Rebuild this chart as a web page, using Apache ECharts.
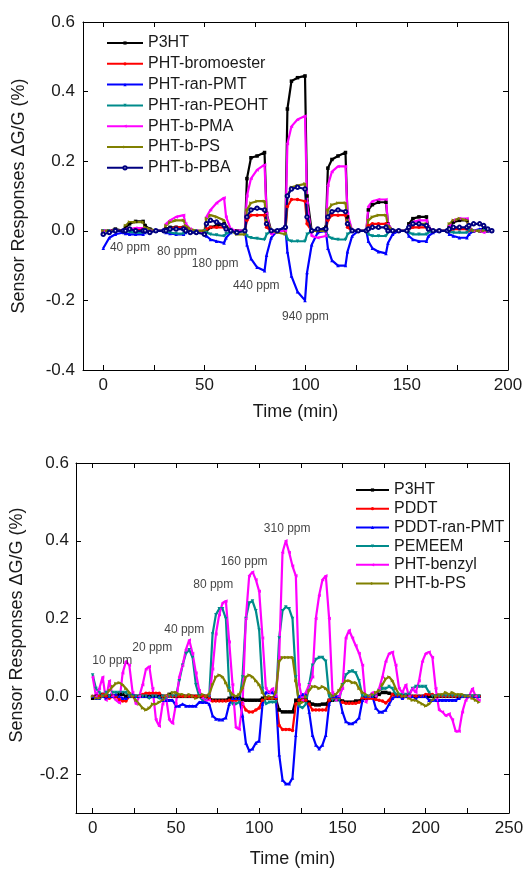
<!DOCTYPE html>
<html><head><meta charset="utf-8">
<script src="https://cdn.jsdelivr.net/npm/echarts@6/dist/echarts.min.js"></script>
<style>html,body{margin:0;padding:0;background:#fff}#c{width:529px;height:869px}</style>
</head><body><div id="c"></div>
<script>
// ---------- Top panel data ----------
const topTime = [0,3,6,
 10,11,13,16,19.7,20.7,23,26,
 30,31,33,36,39.7,40.7,43,46,
 50,51,53,56,59.7,60.7,63,66,
 70,71,73,76,79.7,80.7,83,86,
 90,91,93,96,99.7,100.7,103,106,
 110,111,113,116,119.7,120.7,123,126,
 130,131,133,136,139.7,140.7,143,146,
 150,151,153,156,159.7,160.7,163,166,
 170,171,173,176,179.7,180.7,183,186,
 188,190,192];
const topNames = ['P3HT','PHT-bromoester','PHT-ran-PMT','PHT-ran-PEOHT','PHT-b-PMA','PHT-b-PS','PHT-b-PBA'];
const topP3HT = [0,0,0.005,
 0,0.01,0.02,0.027,0.027,0.015,0.005,0,
 0,0.005,0.01,0.01,0.01,0.005,0,-0.005,
 -0.005,0,0.01,0.015,0.02,0.01,0,0,
 0,0.15,0.21,0.215,0.225,0.05,0,0,
 0.01,0.35,0.43,0.44,0.445,0.1,0,0,
 0.01,0.18,0.205,0.215,0.225,0.04,0,0,
 0,0.06,0.075,0.082,0.082,0.02,0,0,
 0,0.02,0.035,0.04,0.04,0.01,0,0,
 0,0.01,0.025,0.03,0.03,0.01,0,0,
 0.005,0,0];
const topBromo = [0,0,0,
 0,0,0.005,0.005,0.005,0,0,0,
 0,0,0.005,0.01,0.01,0.005,0,0,
 0,0.005,0.01,0.01,0.01,0.005,0,0,
 0,0.03,0.045,0.045,0.045,0.01,0,0,
 0,0.07,0.09,0.09,0.085,0.02,0,0,
 0,0.03,0.045,0.045,0.045,0.01,0,0,
 0,0.015,0.02,0.02,0.02,0.005,0,0,
 0,0.005,0.01,0.01,0.01,0,0,0,
 0,0,0.005,0.005,0.005,0,0,0,
 0,0,0];
const topRanPMT = [-0.05,-0.02,-0.01,
 -0.005,-0.008,-0.01,-0.01,-0.01,-0.005,0,0,
 0,-0.005,-0.008,-0.01,-0.01,-0.005,0,0,
 -0.005,-0.015,-0.025,-0.03,-0.035,-0.02,-0.005,0,
 0,-0.04,-0.08,-0.105,-0.115,-0.07,-0.02,0,
 0.01,-0.06,-0.13,-0.175,-0.2,-0.12,-0.04,-0.005,
 0,-0.05,-0.085,-0.1,-0.1,-0.06,-0.015,0,
 0,-0.03,-0.05,-0.06,-0.065,-0.035,-0.01,0,
 0,-0.015,-0.025,-0.03,-0.03,-0.015,-0.005,0,
 0,-0.01,-0.015,-0.02,-0.02,-0.01,0,0.005,
 0.005,0,0];
const topPEOHT = [0,0,0,
 0,0,-0.003,-0.005,-0.005,0,0,0,
 0,-0.003,-0.005,-0.008,-0.008,-0.003,0,0,
 0,-0.005,-0.01,-0.012,-0.015,-0.008,-0.005,-0.002,
 0,-0.015,-0.02,-0.022,-0.025,-0.01,0,0,
 0,-0.025,-0.03,-0.03,-0.03,-0.01,0,0,
 0,-0.015,-0.022,-0.025,-0.025,-0.01,0,0,
 0,-0.01,-0.015,-0.015,-0.015,-0.005,0,0,
 0,-0.005,-0.01,-0.01,-0.01,-0.005,0,0,
 0,-0.003,-0.005,-0.005,-0.005,0,0,0,
 0,0,0];
const topPMA = [0,0,0,
 0,0.005,0.005,0.008,0.008,0,0,0,
 0,0.02,0.03,0.04,0.045,0.02,0.005,0,
 -0.01,0.04,0.06,0.08,0.095,0.04,0.005,0,
 0,0.1,0.15,0.175,0.19,0.05,-0.01,0,
 0,0.25,0.3,0.32,0.33,0.08,-0.015,-0.02,
 -0.015,0.13,0.17,0.185,0.185,0.05,0,0,
 0,0.07,0.085,0.09,0.09,0.02,0,0,
 0,0.015,0.025,0.03,0.03,0.01,0,0,
 0,0.015,0.03,0.035,0.035,0.01,0,0,
 -0.005,0,0];
const topPS = [0,0,0,
 0,0.015,0.025,0.025,0.025,0.01,0.005,0,
 0,0.015,0.025,0.03,0.03,0.015,0.005,0,
 0,0.035,0.045,0.04,0.03,0.015,0,-0.01,
 -0.01,0.06,0.08,0.085,0.085,0.03,0,-0.005,
 -0.01,0.1,0.125,0.13,0.135,0.04,0,0,
 0,0.06,0.075,0.08,0.08,0.03,0,0,
 0,0.03,0.04,0.045,0.045,0.015,0,0,
 0,0.01,0.02,0.02,0.02,0.005,0,0,
 0,0.02,0.03,0.035,0.03,0.01,0,0,
 0,0,0];
const topPBA = [-0.01,-0.005,0,
 0,0,0.005,0,0,0,-0.005,0,
 0,0,0.005,0.005,0.005,0,-0.005,-0.005,
 -0.01,0.02,0.03,0.025,0.015,0.005,0,-0.005,
 0,0.04,0.06,0.065,0.06,0.02,0,0,
 0.01,0.1,0.12,0.125,0.12,0.04,0,0.005,
 0.005,0.04,0.055,0.06,0.055,0.02,0,0,
 0,0.005,0.01,0.01,0.01,0,0,0,
 0,0.01,0.02,0.02,0.015,0.005,0,0,
 0,0.005,0.01,0.01,0.01,0.015,0.02,0.02,
 0.015,0.005,0];
const topDoseText = ['40 ppm','80 ppm','180 ppm','440 ppm','940 ppm'];
const topDoseX = [13.2,36.5,55.3,75.6,99.9];
const topDoseY = [-0.049,-0.061,-0.095,-0.158,-0.248];
const topXTicks = [0,25,50,75,100,125,150,175,200];
const topXLabels = [0,50,100,150,200];

// ---------- Bottom panel data ----------
const botTime = [];
for (let t = 0; t <= 232; t += 2) botTime.push(t);
const botNames = ['P3HT','PDDT','PDDT-ran-PMT','PEMEEM','PHT-benzyl','PHT-b-PS'];
const botP3HT = [-0.005,0,0,0.005,0,0,0,0,0.005,0.005,
 0,0,0,0,0,0,0,0,0,0,
 0,0,0,0.005,0,0,0,0,0,0,
 0,0,0,0,0,-0.005,-0.01,-0.01,-0.01,-0.01,
 -0.01,-0.005,-0.005,-0.005,-0.005,-0.008,-0.01,-0.01,-0.01,-0.01,
 -0.01,-0.005,-0.005,-0.005,-0.005,-0.005,-0.035,-0.04,-0.04,-0.04,
 -0.04,-0.01,-0.01,-0.01,-0.01,-0.015,-0.02,-0.022,-0.022,-0.02,
 -0.02,-0.01,-0.01,-0.008,-0.008,-0.012,-0.015,-0.015,-0.015,-0.012,
 -0.012,-0.005,-0.005,-0.003,-0.003,0,0.005,0.01,0.01,0.008,
 0.005,0,0,0,0,0,0,0,0,0,
 0,0,0,0,0,0,0,0,0,0,
 0,0,0,0,0,0,0];
const botPDDT = [0,-0.005,0,0.005,0,-0.005,0,0,-0.008,-0.012,
 -0.012,0,0,0,0,0.005,0.008,0.008,0.008,0.008,
 0.008,0,0,0,0,0,0,0,0,0,
 0,0,0,0,0,-0.005,-0.012,-0.012,-0.012,-0.012,
 -0.012,-0.01,-0.01,-0.01,-0.01,-0.02,-0.035,-0.04,-0.04,-0.035,
 -0.03,-0.01,-0.005,-0.005,-0.005,-0.005,-0.075,-0.085,-0.085,-0.085,
 -0.088,-0.02,-0.01,-0.01,-0.01,-0.02,-0.035,-0.035,-0.035,-0.035,
 -0.035,-0.01,-0.005,-0.005,-0.005,-0.015,-0.018,-0.018,-0.018,-0.018,
 -0.015,-0.005,-0.005,-0.005,-0.005,-0.008,-0.01,-0.012,-0.017,-0.01,
 0.005,0,0,0,0,0,0,0,0,0,
 0.005,0.005,0.005,0,0,0,0,0,0,0,
 0,0,0,0,0,0,0];
const botRanPMT = [0,-0.005,-0.005,0,-0.005,0,0,0.005,0,-0.005,
 -0.005,0,0.005,0,0,0,0,0,0,0,
 0,-0.01,-0.01,-0.01,-0.01,-0.025,-0.025,-0.02,-0.025,-0.025,
 -0.025,-0.025,-0.015,-0.015,-0.015,-0.02,-0.05,-0.058,-0.06,-0.06,
 -0.055,-0.02,-0.005,-0.005,-0.005,-0.05,-0.12,-0.14,-0.135,-0.12,
 -0.115,-0.02,0.01,0.01,0.01,0,-0.15,-0.215,-0.225,-0.225,
 -0.21,-0.1,0,0.005,0.005,-0.04,-0.1,-0.125,-0.135,-0.125,
 -0.1,-0.02,0,0,0,-0.04,-0.065,-0.07,-0.07,-0.065,
 -0.055,-0.01,0,0,0,-0.03,-0.04,-0.04,-0.035,-0.02,
 -0.005,0,0,-0.005,0,0,0,-0.005,0,0,
 0,-0.01,-0.01,-0.01,-0.01,-0.01,-0.01,-0.01,-0.01,-0.01,
 -0.005,0,0,0,0,0,0];
const botPEMEEM = [0.055,0.02,0.01,0,0.01,0,0.01,0.01,0.01,0.01,
 0.01,0,0,0,0,0,0,-0.005,0,0,
 -0.005,0,-0.005,0,0,0,0.04,0.08,0.11,0.12,
 0.1,0.03,0,-0.01,-0.01,0,0.16,0.21,0.225,0.225,
 0.2,0.02,-0.02,-0.02,-0.015,0.05,0.2,0.24,0.245,0.22,
 0.17,0.02,-0.02,-0.015,-0.015,-0.015,0.15,0.22,0.23,0.225,
 0.2,0.05,-0.025,-0.03,-0.02,0.03,0.08,0.095,0.1,0.1,
 0.09,0,-0.01,-0.01,-0.01,0.03,0.055,0.063,0.065,0.06,
 0.04,0,0,0,0,0,0.015,0.02,0.02,0.025,
 0.02,0.005,0.005,0.005,0.005,0.005,0.02,0.025,0.025,0.025,
 0.025,0.01,0,0,0,0,0,0,0,0,
 0,0,0,0,0,0,0];
const botBenzyl = [0.05,0,0.02,0.05,-0.01,0.04,0,-0.01,-0.017,0.06,
 0.09,0.08,0.01,-0.02,0,0.03,0.07,0.077,0.02,-0.06,
 -0.077,-0.02,0,-0.06,-0.07,-0.02,0.05,0.08,0.12,0.145,
 0.11,0.06,0.015,-0.005,-0.01,-0.01,0.07,0.16,0.21,0.24,
 0.245,0.14,0.03,-0.08,-0.085,-0.02,0.2,0.31,0.32,0.3,
 0.27,0.15,0.02,0.01,0.02,0,0.1,0.37,0.4,0.37,
 0.335,0.31,0.03,-0.01,0.01,0.03,0.05,0.2,0.26,0.3,
 0.31,0.2,0.01,-0.01,0,0.02,0.15,0.17,0.15,0.13,
 0.11,0.08,-0.015,0,0.01,0,0.02,0.05,0.09,0.11,
 0.114,0.08,0.02,0.01,0.03,0,0.02,0.01,0.04,0.09,
 0.11,0.114,0.1,0.02,-0.035,-0.04,-0.05,-0.045,-0.06,-0.09,
 -0.09,-0.04,-0.01,0,0.02,0,-0.01];
const botPS = [0,-0.005,-0.005,0,0.005,0.015,0.025,0.033,0.035,0.03,
 0.02,0.01,0,-0.01,-0.02,-0.03,-0.035,-0.03,-0.02,-0.02,
 -0.015,-0.01,0,0.005,0.01,0.01,0.005,0.005,0,0.005,
 0,-0.005,0,0.005,0,0.005,0.03,0.05,0.055,0.05,
 0.035,0.015,0.005,0,0.005,0.02,0.05,0.055,0.05,0.04,
 0.03,0.01,-0.005,0,-0.005,0.01,0.09,0.1,0.1,0.1,
 0.1,0.04,-0.02,-0.015,0,0.015,0.025,0.025,0.02,0.025,
 0.02,0.01,0,0.005,0.015,0.03,0.04,0.04,0.035,0.035,
 0.02,0.01,0.005,0,0.005,0.01,0.015,0.03,0.045,0.05,
 0.04,0.02,0.005,0,0,-0.005,-0.01,-0.01,-0.015,-0.02,
 -0.025,-0.02,-0.01,0,0.005,0.005,0.01,0.005,0.01,0.005,
 0.005,0.005,0,0,-0.005,-0.01,-0.015];
const botDoseText = ['10 ppm','20 ppm','40 ppm','80 ppm','160 ppm','310 ppm'];
const botDoseX = [11.8,35.8,55,72.4,91,116.8];
const botDoseY = [0.091,0.124,0.172,0.288,0.346,0.432];
const botXTicks = [0,25,50,75,100,125,150,175,200,225,250];
const botXLabels = [0,50,100,150,200,250];
const botYLabels = [-0.2,0,0.2,0.4,0.6];

// ---------- styling ----------
const FONT = 'Liberation Sans, Arial, sans-serif';
const TXT = '#1a1a1a';
const SYM = {
  sq: 'rect', ci: 'circle', up: 'triangle',
  dn: 'path://M0,0 L10,0 L5,10 Z',
  lf: 'path://M0,5 L10,0 L10,10 Z',
  rt: 'path://M0,0 L10,5 L0,10 Z',
  oc: 'emptyCircle'
};
const topColors = ['#000000','#ff0000','#0000ff','#008b8b','#ff00ff','#808000','#000080'];
const topSyms = [SYM.sq,SYM.ci,SYM.up,SYM.dn,SYM.lf,SYM.rt,SYM.oc];
const topVals = [topP3HT,topBromo,topRanPMT,topPEOHT,topPMA,topPS,topPBA];
const botColors = ['#000000','#ff0000','#0000ff','#008b8b','#ff00ff','#808000'];
const botSyms = [SYM.sq,SYM.ci,SYM.up,SYM.dn,SYM.lf,SYM.rt];
const botVals = [botP3HT,botPDDT,botRanPMT,botPEMEEM,botBenzyl,botPS];

function pairs(ts, vs){ return ts.map((t,i)=>[t, vs[i]]); }
function lineSeries(name, t, v, color, sym, gi){
  return {
    type:'line', name, xAxisIndex: gi*2, yAxisIndex: gi*2,
    data: pairs(t, v), symbol: sym, symbolSize: 3.5, showSymbol: true,
    lineStyle:{color, width:2.2}, itemStyle:{color, borderWidth:1}, z: 3
  };
}
function labelSeries(texts, xs, ys, gi){
  return {
    type:'scatter', name:'dose'+gi, xAxisIndex: gi*2, yAxisIndex: gi*2,
    symbolSize: 1, itemStyle:{color:'rgba(0,0,0,0)'}, silent:true, z: 10,
    data: texts.map((s,i)=>({name:s, value:[xs[i], ys[i]]})),
    label:{show:true, position:'inside', formatter:p=>p.name, color:'#111', fontSize:12, fontFamily:FONT}
  };
}
function xAxes(gi, min, max, ticks, labels, name, gap, margin){
  return [
    {gridIndex:gi, type:'value', min, max, position:'bottom',
     name, nameLocation:'middle', nameGap:gap,
     nameTextStyle:{fontSize:18, color:TXT, fontFamily:FONT},
     axisLine:{show:true, onZero:false, lineStyle:{color:'#000'}},
     axisTick:{show:true, inside:true, length:5, customValues:ticks, lineStyle:{color:'#000'}},
     axisLabel:{show:true, customValues:labels, color:TXT, fontSize:17, fontFamily:FONT, margin},
     splitLine:{show:false}},
    {gridIndex:gi, type:'value', min, max, position:'top',
     axisLine:{show:true, onZero:false, lineStyle:{color:'#000'}},
     axisTick:{show:true, inside:true, length:5, customValues:ticks, lineStyle:{color:'#000'}},
     axisLabel:{show:false}, splitLine:{show:false}}
  ];
}
function yAxes(gi, min, max, custom, name, gap, margin, namePad){
  const tick = custom ? {show:true, inside:true, length:5, customValues:custom, lineStyle:{color:'#000'}}
                      : {show:true, inside:true, length:5, lineStyle:{color:'#000'}};
  const lab = {show:true, color:TXT, fontSize:17, fontFamily:FONT, margin, formatter:v=>Number(v).toFixed(1)};
  if (custom) lab.customValues = custom;
  const base = {gridIndex:gi, type:'value', min, max};
  if (!custom) base.interval = 0.2;
  return [
    Object.assign({}, base, {position:'left', name, nameLocation:'middle', nameGap:gap,
      nameTextStyle:{fontSize:18, color:TXT, fontFamily:FONT, padding:namePad},
      axisLine:{show:true, onZero:false, lineStyle:{color:'#000'}},
      axisTick:tick, axisLabel:lab, splitLine:{show:false}}),
    Object.assign({}, base, {position:'right',
      axisLine:{show:true, onZero:false, lineStyle:{color:'#000'}},
      axisTick:tick, axisLabel:{show:false}, splitLine:{show:false}})
  ];
}

const yName = 'Sensor Responses \u0394G/G (%)';
const series = [];
topNames.forEach((n,i)=>series.push(lineSeries(n, topTime, topVals[i], topColors[i], topSyms[i], 0)));
botNames.forEach((n,i)=>series.push(lineSeries(n, botTime, botVals[i], botColors[i], botSyms[i], 1)));
series.push(labelSeries(topDoseText, topDoseX, topDoseY, 0));
series.push(labelSeries(botDoseText, botDoseX, botDoseY, 1));
const legendCommon = {orient:'vertical', itemHeight:4, padding:0,
  textStyle:{fontSize:16, color:TXT, fontFamily:FONT, lineHeight:16}};

const chart = echarts.init(document.getElementById('c'), null, {renderer:'canvas'});
chart.setOption({
  animation:false,
  backgroundColor:'#fff',
  textStyle:{fontFamily:FONT},
  grid:[
    {left:83, top:22, width:425, height:348, show:false},
    {left:75, top:463, width:434, height:356, show:false}
  ],
  xAxis:[].concat(xAxes(0,-10,200,topXTicks,topXLabels,'Time (min)',33,7),
                  xAxes(1,-10,250,botXTicks,botXLabels,'Time (min)',37,7)),
  yAxis:[].concat(yAxes(0,-0.4,0.6,null,yName,55,8,0),
                  yAxes(1,-0.3,0.6,botYLabels,yName,50,7,[0,0,0,26])),
  legend:[
    Object.assign({}, legendCommon, {left:106, top:35, itemWidth:36, itemGap:4.8, data:topNames.slice()}),
    Object.assign({}, legendCommon, {left:355, top:482, itemWidth:33, itemGap:2.7, data:botNames.slice()})
  ],
  series
});
</script></body></html>
